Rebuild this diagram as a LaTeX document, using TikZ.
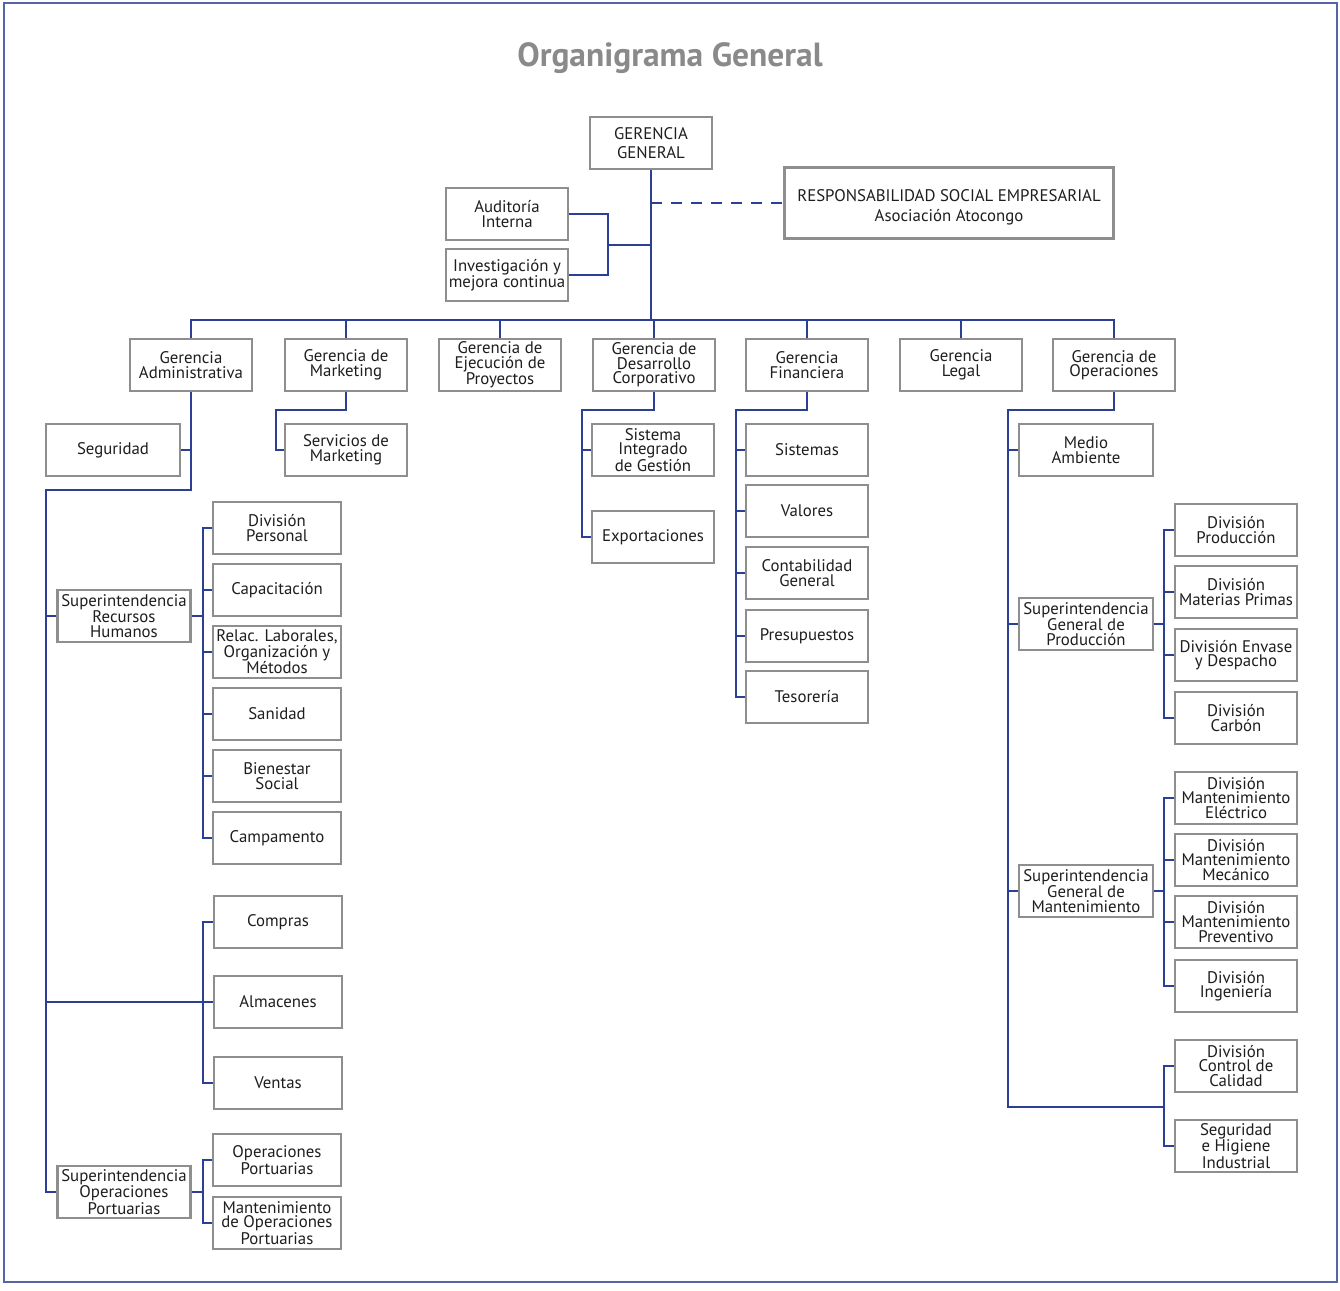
\documentclass[tikz,border=0pt]{standalone}
\usepackage{fontspec}
\setmainfont{PT Sans}
\usetikzlibrary{calc}
\definecolor{boxgray}{HTML}{8E8E8E}
\definecolor{linkblue}{HTML}{2B3F94}
\definecolor{framecol}{HTML}{5566A6}
\definecolor{titlegray}{HTML}{8A8A8A}
\definecolor{txt}{HTML}{1E1E1E}
\begin{document}
\begin{tikzpicture}[x=1pt,y=-1pt,
  bx/.style={draw=boxgray, line width=2.6pt, fill=white, align=center, text=txt,
    inner sep=0pt, minimum height=52pt, font=\fontsize{16.8}{14.5}\selectfont},
  wa/.style={bx, minimum width=122pt},
  wb/.style={bx, minimum width=134pt},
  wc/.style={bx, minimum width=128pt},
  conn/.style={draw=linkblue, line width=1.8pt},
  framebox/.style={draw=framecol, line width=1.4pt}]
\useasboundingbox (0,0) rectangle (1340,1290);
\draw[framebox] (4,3) rectangle (1337,1282);
\node[text=titlegray, font=\fontsize{33.5}{36}\bfseries\selectfont] (title) at (670,58) {Organigrama General};

% top level
\node[wa] (gg) at (651,143) {GERENCIA\\[4pt]GENERAL};
\node[bx, minimum width=329pt, minimum height=71pt] (rse) at (949,203) {\rule{0pt}{21pt}RESPONSABILIDAD SOCIAL EMPRESARIAL\\[6pt]Asociación Atocongo};
\node[wa] (aud) at (507,214) {Auditoría\\Interna};
\node[wa] (inv) at (507,275) {Investigación y\\mejora continua};

% gerencias
\node[wa] (adm) at (191,365) {Gerencia\\Administrativa};
\node[wa] (mkt) at (346,365) {Gerencia de\\Marketing};
\node[wa] (eje) at (500,365) {Gerencia de\\Ejecución de\\Proyectos};
\node[wa] (dco) at (654,365) {Gerencia de\\Desarrollo\\Corporativo};
\node[wa] (fin) at (807,365) {Gerencia\\Financiera};
\node[wa] (leg) at (961,365) {Gerencia\\Legal};
\node[wa] (ope) at (1114,365) {Gerencia de\\Operaciones};

% administrativa
\node[wb] (seg) at (113,450) {Seguridad};
\node[wb, minimum width=133pt] (rrh) at (124,616) {Superintendencia\\Recursos\\Humanos};
\node[wb, minimum width=133pt] (sop) at (124,1192) {Superintendencia\\Operaciones\\Portuarias};
\node[wc] (dpe) at (277,528) {División\\Personal};
\node[wc] (cap) at (277,590) {Capacitación};
\node[wc] (rel) at (277,652) {Relac. Laborales,\\Organización y\\Métodos};
\node[wc] (san) at (277,714) {Sanidad};
\node[wc] (bie) at (277,776) {Bienestar\\Social};
\node[wc] (cam) at (277,838) {Campamento};
\node[wc] (com) at (278,922) {Compras};
\node[wc] (alm) at (278,1002) {Almacenes};
\node[wc] (ven) at (278,1083) {Ventas};
\node[wc] (opp) at (277,1160) {Operaciones\\Portuarias};
\node[wc] (mop) at (277,1223) {Mantenimiento\\de Operaciones\\Portuarias};

% marketing
\node[wa] (svm) at (346,450) {Servicios de\\Marketing};

% desarrollo
\node[wa] (sig) at (653,450) {Sistema\\Integrado\\de Gestión};
\node[wa] (exp) at (653,537) {Exportaciones};

% financiera
\node[wa] (sis) at (807,450) {Sistemas};
\node[wa] (val) at (807,511) {Valores};
\node[wa] (con) at (807,573) {Contabilidad\\General};
\node[wa] (pre) at (807,636) {Presupuestos};
\node[wa] (tes) at (807,697) {Tesorería};

% operaciones
\node[wb] (mam) at (1086,450) {Medio\\Ambiente};
\node[wb] (sgp) at (1086,624) {Superintendencia\\General de\\Producción};
\node[wb] (sgm) at (1086,891) {Superintendencia\\General de\\Mantenimiento};
\node[wa] (dpr) at (1236,530) {División\\Producción};
\node[wa] (dmp) at (1236,592) {División\\Materias Primas};
\node[wa] (den) at (1236,655) {División Envase\\y Despacho};
\node[wa] (dca) at (1236,718) {División\\Carbón};
\node[wa] (mel) at (1236,798) {División\\Mantenimiento\\Eléctrico};
\node[wa] (mme) at (1236,860) {División\\Mantenimiento\\Mecánico};
\node[wa] (mpr) at (1236,922) {División\\Mantenimiento\\Preventivo};
\node[wa] (din) at (1236,986) {División\\Ingeniería};
\node[wa] (cal) at (1236,1066) {División\\Control de\\Calidad};
\node[wa] (shi) at (1236,1146) {Seguridad\\e Higiene\\Industrial};

% ---------- connectors ----------
\coordinate (bus) at (651,320);
\draw[conn] (gg.south) -- (bus);
\draw[conn] (adm.north) |- (bus) -| (ope.north);
\foreach \n in {mkt,eje,dco,fin,leg} \draw[conn] (\n.north) -- (\n.north |- bus);
\coordinate (ab) at (608,245);
\draw[conn] (aud.east) -| (ab) |- (inv.east);
\draw[conn] (ab) -- (ab -| gg.south);
\draw[conn, dash pattern=on 11pt off 9pt] (gg.south |- rse.west) -- (rse.west);

% administrativa
\coordinate (aj) at (191,490);
\coordinate (lt) at (46,490);
\draw[conn] (adm.south) -- (aj) -- (lt) |- (sop.west);
\draw[conn] (seg.east) -- (seg.east -| adm.south);
\draw[conn] (lt |- rrh.west) -- (rrh.west);
\draw[conn] (lt |- alm.west) -- (alm.west);
\coordinate (rx) at (203,528);
\draw[conn] (dpe.west) -- (rx) |- (cam.west);
\foreach \n in {cap,rel,san,bie} \draw[conn] (\n.west) -- (\n.west -| rx);
\draw[conn] (rrh.east) -- (rrh.east -| rx);
\coordinate (cx) at (203,922);
\draw[conn] (com.west) -- (cx) |- (ven.west);
\coordinate (px) at (203,1160);
\draw[conn] (opp.west) -- (px) |- (mop.west);
\draw[conn] (sop.east) -- (sop.east -| px);

% marketing
\coordinate (mj) at (276,410);
\draw[conn] (mkt.south) |- (mj) |- (svm.west);

% desarrollo
\coordinate (dj) at (582,410);
\draw[conn] (dco.south) |- (dj) |- (exp.west);
\draw[conn] (sig.west) -- (sig.west -| dj);

% financiera
\coordinate (fj) at (736,410);
\draw[conn] (fin.south) |- (fj) |- (tes.west);
\foreach \n in {sis,val,con,pre} \draw[conn] (\n.west) -- (\n.west -| fj);

% operaciones
\coordinate (oj) at (1008,410);
\coordinate (ob) at (1008,1107);
\coordinate (qx) at (1164,1066);
\draw[conn] (ope.south) |- (oj) -- (ob) -- (ob -| qx);
\foreach \n in {mam,sgp,sgm} \draw[conn] (\n.west) -- (\n.west -| oj);
\coordinate (gx) at (1164,530);
\draw[conn] (dpr.west) -- (gx) |- (dca.west);
\foreach \n in {dmp,den} \draw[conn] (\n.west) -- (\n.west -| gx);
\draw[conn] (sgp.east) -- (sgp.east -| gx);
\coordinate (hx) at (1164,798);
\draw[conn] (mel.west) -- (hx) |- (din.west);
\foreach \n in {mme,mpr} \draw[conn] (\n.west) -- (\n.west -| hx);
\draw[conn] (sgm.east) -- (sgm.east -| hx);
\draw[conn] (cal.west) -- (qx) |- (shi.west);
\end{tikzpicture}
\end{document}
